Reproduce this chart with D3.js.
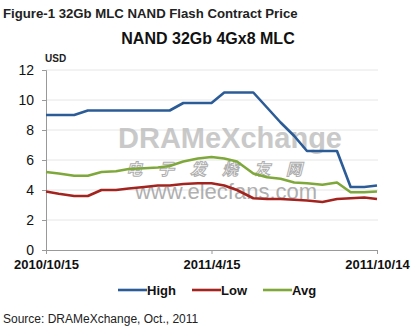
<!DOCTYPE html>
<html><head><meta charset="utf-8">
<script src="https://cdn.jsdelivr.net/npm/d3@7"></script>
<style>body{margin:0;background:#fff;}svg{display:block;font-family:Arial,"Liberation Sans",sans-serif;}</style>
</head><body><svg id="c" width="418" height="329"></svg>
<script>
const dates = ["2010-10-15","2010-10-29","2010-11-15","2010-11-30","2010-12-15","2010-12-31","2011-01-14","2011-01-31","2011-02-15","2011-02-28","2011-03-15","2011-03-31","2011-04-15","2011-04-29","2011-05-13","2011-05-31","2011-06-15","2011-06-30","2011-07-15","2011-07-29","2011-08-15","2011-08-31","2011-09-15","2011-09-30","2011-10-14"];
const high = [9.0,9.0,9.0,9.3,9.3,9.3,9.3,9.3,9.3,9.3,9.8,9.8,9.8,10.5,10.5,10.5,9.5,8.5,7.6,6.6,6.6,6.6,4.2,4.2,4.3];
const low  = [3.9,3.75,3.6,3.6,4.0,4.0,4.1,4.2,4.3,4.3,4.4,4.45,4.45,4.3,4.0,3.45,3.4,3.4,3.35,3.3,3.2,3.4,3.45,3.5,3.4];
const avg  = [5.2,5.1,4.95,4.95,5.2,5.25,5.4,5.45,5.5,5.6,5.9,6.1,6.2,6.1,5.9,5.1,4.85,4.75,4.5,4.45,4.35,4.5,3.85,3.85,3.9];
const yTicks = [0,2,4,6,8,10,12];
const xTickLabels = ["2010/10/15","2011/4/15","2011/10/14"];
const seriesNames = ["High","Low","Avg"];
const colors = ["#2b5c97","#a3241f","#7fa83b"];

const parse = d3.timeParse("%Y-%m-%d");
const xd = dates.map(parse);
const svg = d3.select("#c");
const x = d3.scaleTime().domain([xd[0], xd[xd.length-1]]).range([46, 377]);
const y = d3.scaleLinear().domain([0,12]).range([250, 70]);

svg.append("text").attr("x",3).attr("y",18).attr("font-size",13.2).attr("font-weight","bold").attr("fill","#222").text("Figure-1 32Gb MLC NAND Flash Contract Price");
svg.append("text").attr("x",208).attr("y",43.5).attr("text-anchor","middle").attr("font-size",16).attr("font-weight","bold").attr("fill","#111").text("NAND 32Gb 4Gx8 MLC");
svg.append("text").attr("x",45).attr("y",62).attr("font-size",10).attr("font-weight","bold").attr("fill","#222").text("USD");

// gridlines
svg.append("g").selectAll("line").data(yTicks.filter(d=>d>0)).join("line")
  .attr("x1",46).attr("x2",378).attr("y1",d=>y(d)).attr("y2",d=>y(d))
  .attr("stroke","#e6e6e6").attr("stroke-width",1);

// watermark
const wm = svg.append("g").attr("pointer-events","none");
wm.append("text").attr("x",230).attr("y",148).attr("text-anchor","middle").attr("font-size",29).attr("font-weight","bold").attr("fill","#b8b8b8").attr("opacity",0.75).text("DRAMeXchange");
wm.append("text").attr("x",222).attr("y",175).attr("text-anchor","middle").attr("font-size",16).attr("font-style","italic").attr("font-weight","bold").attr("fill","#ffffff").attr("stroke","#9a9a9a").attr("stroke-width",1).attr("opacity",0.8).attr("font-family","Noto Sans CJK SC").attr("letter-spacing",16).text("电子发烧友网");
wm.append("text").attr("x",226).attr("y",199).attr("text-anchor","middle").attr("font-size",22).attr("fill","#9c9c9c").attr("opacity",0.8).text("www.elecfans.com");

// y axis
const yAxis = svg.append("g").attr("transform","translate(46,0)").call(d3.axisLeft(y).tickValues(yTicks).tickSize(4).tickPadding(8));
yAxis.select(".domain").attr("stroke","#999");
yAxis.selectAll(".tick line").attr("stroke","#999");
yAxis.selectAll("text").attr("font-size",14).attr("fill","#111").attr("font-family","Arial,'Liberation Sans',sans-serif");

// x axis
const xTickDates = [xd[0], parse("2011-04-15"), xd[xd.length-1]];
const xAxis = svg.append("g").attr("transform","translate(0,250)").call(d3.axisBottom(x).tickValues(xTickDates).tickSize(4).tickSizeOuter(0).tickFormat((d,i)=>xTickLabels[i]).tickPadding(6));
xAxis.select(".domain").attr("stroke","#999");
xAxis.selectAll(".tick line").attr("stroke","#999");
xAxis.selectAll("text").attr("font-size",13).attr("font-weight","bold").attr("fill","#111").attr("font-family","Arial,'Liberation Sans',sans-serif");

// lines
const line = d3.line().x((d,i)=>x(xd[i])).y(d=>y(d));
[high,low,avg].forEach((s,k)=>{
  svg.append("path").datum(s).attr("d",line).attr("fill","none").attr("stroke",colors[k]).attr("stroke-width",2.6).attr("stroke-linejoin","round");
});

// legend
const legX = [118,192,263];
const lg = svg.append("g");
seriesNames.forEach((n,k)=>{
  lg.append("line").attr("x1",legX[k]).attr("x2",legX[k]+29).attr("y1",290).attr("y2",290).attr("stroke",colors[k]).attr("stroke-width",2.6);
  lg.append("text").attr("x",legX[k]+29).attr("y",295).attr("font-size",13).attr("font-weight","bold").attr("fill","#111").text(n);
});

svg.append("text").attr("x",3).attr("y",323).attr("font-size",12).attr("fill","#222").text("Source: DRAMeXchange, Oct., 2011");
</script></body></html>
